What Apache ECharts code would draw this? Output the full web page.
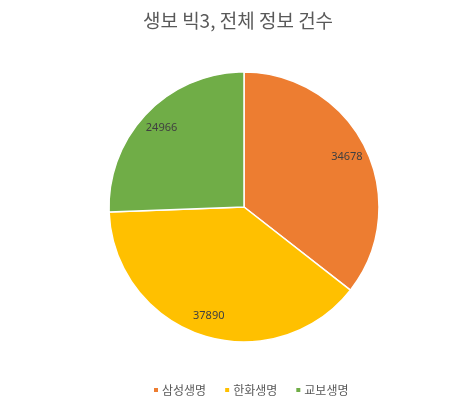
<!DOCTYPE html>
<html><head><meta charset="utf-8">
<script src="https://cdn.jsdelivr.net/npm/echarts@6/dist/echarts.min.js"></script>
<style>html,body{margin:0;padding:0;background:#fff}#c{width:476px;height:400px}</style>
</head><body><div id="c"></div>
<script>
const titleText = '생보 빅3, 전체 정보 건수';
const categories = ['삼성생명', '한화생명', '교보생명'];
const values = [34678, 37890, 24966];
const colors = ['#ED7D31', '#FFC000', '#70AD47'];

const chart = echarts.init(document.getElementById('c'));
const pieData = categories.map((c, i) => ({name: c, value: values[i]}));
chart.setOption({
  animation: false,
  color: colors,
  title: {
    text: titleText, left: 'center', top: 6,
    textStyle: {color: '#595959', fontSize: 19, fontWeight: 'normal', fontFamily: 'Noto Sans CJK KR'}
  },
  legend: {
    top: 379, left: 147, icon: 'rect', itemWidth: 6, itemHeight: 6, itemGap: 17,
    textStyle: {color: '#595959', fontSize: 12, fontFamily: 'Noto Sans CJK KR', padding: [0, 0, 0, -2]},
    data: categories
  },
  series: [{
    type: 'pie',
    center: [244, 207],
    radius: [0, 135],
    startAngle: 90,
    clockwise: true,
    itemStyle: {borderColor: '#fff', borderWidth: 1.5},
    label: {show: false},
    labelLine: {show: false},
    data: pieData
  }, {
    type: 'pie',
    center: [244, 207],
    radius: [88, 135],
    startAngle: 90,
    clockwise: true,
    silent: true,
    itemStyle: {color: 'rgba(0,0,0,0)', borderWidth: 0},
    label: {
      show: true, position: 'inner', formatter: '{c}',
      color: '#404040', fontSize: 11, fontFamily: 'Noto Sans'
    },
    labelLine: {show: false},
    data: pieData
  }]
});
</script></body></html>
